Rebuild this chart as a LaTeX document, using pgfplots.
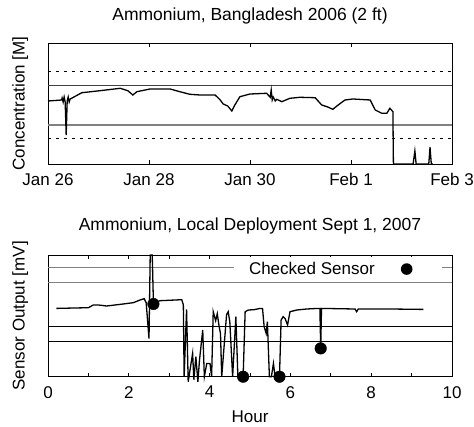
\documentclass[border=0pt]{standalone}
\usepackage{pgfplots}
\pgfplotsset{compat=1.18}
\usepackage{fontspec}
\setmainfont{Liberation Sans}
\begin{document}
\begin{tikzpicture}[font=\fontsize{17}{20}\selectfont]
\useasboundingbox (0,0) rectangle (474pt,426pt);
\pgfplotsset{
  myaxis/.style={
    scale only axis, width=404pt,
    axis line style={line width=0.9pt},
    ytick=\empty,
    major tick length=4pt, minor tick length=4pt,
    tick style={line width=0.7pt, black},
    xticklabel style={yshift=-6pt, font=\fontsize{17}{20}\selectfont},
    title style={font=\fontsize{17.5}{20}\selectfont, anchor=base, inner sep=0pt},
    ylabel style={font=\fontsize{17}{20}\selectfont, anchor=base, inner sep=0pt},
    xlabel style={font=\fontsize{17}{20}\selectfont, anchor=base, inner sep=0pt},
    clip=false,
  },
}
% ---------- top ----------
\begin{axis}[myaxis, height=121pt, at={(48pt,262pt)}, anchor=south west,
  xmin=0, xmax=8, ymin=0, ymax=121,
  xtick={0,2,4,6,8},
  xticklabels={Jan 26,Jan 28,Jan 30,Feb 1,Feb 3},
  title={Ammonium, Bangladesh 2006 (2 ft)},
  title style={at={(axis description cs:0.5,1.1347)}},
  ylabel={Concentration [M]},
  ylabel style={at={(axis description cs:-0.0577,0.5)}},
]
\addplot[black, line width=0.8pt, dash pattern=on 3pt off 5pt] coordinates {(0,93) (8,93)};
\addplot[black, line width=0.8pt, dash pattern=on 3pt off 5pt] coordinates {(0,26) (8,26)};
\addplot[black!75, line width=0.8pt] coordinates {(0,79) (8,79)};
\addplot[black!50, line width=1.2pt] coordinates {(0,39) (8,39)};
\addplot[black, line width=1.3pt] coordinates {
(0,63) (0.27,64) (0.28,66) (0.30,62) (0.32,67) (0.34,62) (0.36,29) (0.38,63) (0.40,67) (0.42,62) (0.44,65)
(0.67,71.3) (1.03,73.3) (1.43,75.7) (1.58,73.3) (1.68,69) (1.76,72.3) (2.02,75) (2.42,75) (2.61,72.3)
(2.81,69.7) (3.01,69) (3.31,69) (3.41,64) (3.47,60) (3.56,58) (3.64,53) (3.70,59) (3.80,67.3) (4.0,70)
(4.33,70.7) (4.40,66.7) (4.42,74) (4.44,64) (4.46,67) (4.50,63) (4.53,64.7) (4.63,62.3) (4.79,65.7)
(4.99,66.7) (5.29,66.3) (5.42,59) (5.54,57) (5.64,54.7) (5.72,58) (5.88,64) (6.04,65) (6.38,64)
(6.48,54) (6.61,50.7) (6.71,50.7) (6.77,55.7) (6.83,52.3) (6.84,0) (7.23,0) (7.265,13) (7.29,0)
(7.54,0) (7.565,16.7) (7.59,0) (7.62,0)
};
\end{axis}
% ---------- bottom ----------
\begin{axis}[myaxis, height=121.7pt, at={(48pt,49.3pt)}, anchor=south west,
  xmin=0, xmax=10, ymin=0, ymax=121.7,
  xtick={0,1,...,10},
  xticklabels={0,,2,,4,,6,,8,,10},
  title={Ammonium, Local Deployment Sept 1, 2007},
  title style={at={(axis description cs:0.5,1.156)}},
  ylabel={Sensor Output [mV]},
  ylabel style={at={(axis description cs:-0.0577,0.5)}},
  xlabel={Hour},
  xlabel style={at={(axis description cs:0.5,-0.378)}},
  legend style={draw=none, fill=white, at={(axis description cs:0.975,0.984)}, anchor=north east,
    inner xsep=13pt, inner ysep=3pt, legend plot pos=right,
    nodes={inner sep=2pt}, font=\fontsize{17}{20}\selectfont},
  legend image code/.code={\path[draw=none,fill=none] (0pt,-5pt) rectangle (52pt,5pt); \fill[black,draw=none] (30pt,0pt) circle (5.8pt);},
]
\addplot[black!50, line width=1pt, forget plot] coordinates {(0,109) (10,109)};
\addplot[black!50, line width=1pt, forget plot] coordinates {(0,94) (10,94)};
\addplot[black, line width=0.8pt, forget plot] coordinates {(0,50) (10,50)};
\addplot[black, line width=0.8pt, forget plot] coordinates {(0,35) (10,35)};
\addplot[black, line width=1.3pt, forget plot] coordinates {
(0.21,68.3) (1.0,69) (1.12,71.7) (1.25,71.7) (1.45,70.7) (1.78,72.3) (2.11,74) (2.28,76.7) (2.38,78)
(2.43,74) (2.50,38) (2.53,121.7) (2.58,121.7) (2.61,73) (2.77,76) (3.31,77) (3.35,72) (3.37,0)
(3.43,67.4) (3.47,-5) (3.58,23.4) (3.61,-3) (3.66,20) (3.71,-5) (3.75,16.7) (3.83,46.7) (3.87,0)
(3.93,13.3) (4.01,13.3) (4.05,0) (4.09,65) (4.15,56) (4.19,63) (4.23,51.7) (4.27,43) (4.30,0)
(4.42,62) (4.46,65) (4.50,55) (4.57,0) (4.65,60) (4.70,0) (4.83,0) (4.88,65) (4.96,66.7) (5.1,67)
(5.25,68.3) (5.31,68.3) (5.35,50) (5.40,43.3) (5.43,55) (5.48,0) (5.53,0) (5.58,13.3) (5.62,0)
(5.73,0) (5.77,56.7) (5.82,60) (5.87,58) (5.93,51.7) (5.99,65) (6.16,66.7) (6.40,67.7) (6.69,68.3)
(6.73,68.3) (6.75,28.3) (6.77,68.3) (7.60,67.7) (7.64,65) (7.68,67.7) (8.47,67.7) (9.29,67.3)
};
\addplot[only marks, mark=*, mark size=5.8pt, black] coordinates {(2.61,72.7) (4.83,0) (5.73,0) (6.75,28.3)};
\addlegendentry{Checked Sensor}
\end{axis}
\end{tikzpicture}
\end{document}
